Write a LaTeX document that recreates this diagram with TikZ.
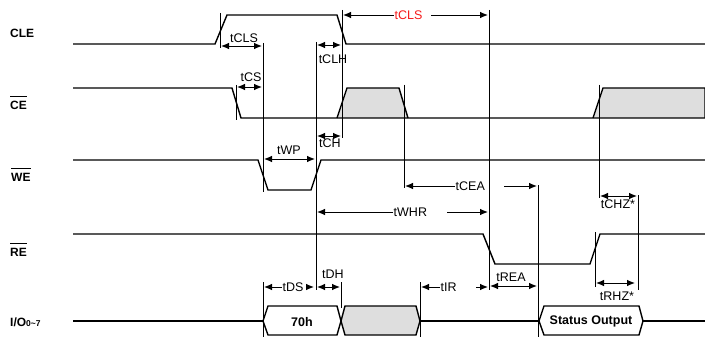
\documentclass[tikz,border=0pt]{standalone}
\usepackage{fontspec}
\setmainfont{Liberation Sans}
\usetikzlibrary{arrows.meta}
\definecolor{tred}{RGB}{245,25,25}
\definecolor{dcgrey}{RGB}{222,222,222}
\begin{document}
\begin{tikzpicture}[x=1pt,y=-1pt,
  sig/.style={line width=1.4pt, line join=miter},
  refl/.style={line width=0.7pt},
  dimone/.style={line width=0.9pt, -{Latex[length=8pt,width=6.5pt]}},
  dimtwo/.style={line width=0.9pt, {Latex[length=8pt,width=6.5pt]}-{Latex[length=8pt,width=6.5pt]}},
  lbl/.style={font=\fontsize{12.5}{13}\selectfont, inner sep=0.5pt},
  sname/.style={font=\bfseries\fontsize{12}{12}\selectfont, anchor=west, inner sep=0pt},
  bar/.style={line width=1.1pt},
  boxtxt/.style={font=\bfseries\fontsize{12.5}{13}\selectfont, inner sep=0pt},
  dontcare/.style={fill=dcgrey}]
\useasboundingbox (0,0) rectangle (705,337);

% signal names
\node[sname] (nCLE) at (10,33) {CLE};
\node[sname] (nCE) at (10,105) {CE};
\node[sname] (nWE) at (11,177) {WE};
\node[sname] (nRE) at (10,252) {RE};
\node[sname] (nIO) at (10,322) {I/O{\fontsize{8.5}{8.5}\selectfont\bfseries 0\textasciitilde7}};
\draw[bar] ([yshift=4.5pt]nCE.north west) -- ([yshift=4.5pt]nCE.north east);
\draw[bar] ([yshift=4.5pt]nWE.north west) -- ([yshift=4.5pt]nWE.north east);
\draw[bar] ([yshift=4.5pt]nRE.north west) -- ([yshift=4.5pt]nRE.north east);

% reference lines
\draw[refl] (220,13) -- (220,48);
\draw[refl] (263,43) -- (263,192);
\draw[refl] (263,282) -- (263,337);
\draw[refl] (236,85) -- (236,120);
\draw[refl] (316,42) -- (316,290);
\draw[refl] (342,10) -- (342,138);
\draw[refl] (341,282) -- (341,308);
\draw[refl] (404,85) -- (404,188);
\draw[refl] (489,10) -- (489,290);
\draw[refl] (538,185) -- (538,337);
\draw[refl] (599,85) -- (599,198);
\draw[refl] (638,195) -- (638,290);
\draw[refl] (595,232) -- (595,287);
\draw[refl] (420,282) -- (420,337);

% CLE
\draw[sig] (73,44) -- (215,44) -- (227,15) -- (337,15) -- (346,44) -- (705,44);

% CE
\filldraw[sig, dontcare] (337,118) -- (347,88) -- (399,88) -- (408,118);
\filldraw[sig, dontcare] (593,118) -- (603,88) -- (705,88) -- (705,118);
\draw[sig] (73,88) -- (232,88) -- (241,118) -- (705,118);
\draw[refl] (342,85) -- (342,120);
\draw[refl] (404,85) -- (404,120);
\draw[refl] (599,85) -- (599,120);

% WE
\draw[sig] (73,160) -- (258,160) -- (268,190) -- (311,190) -- (321,160) -- (705,160);

% RE
\draw[sig] (73,234) -- (483,234) -- (495,264) -- (590,264) -- (600,234) -- (705,234);

% I/O
\draw[sig] (73,321) -- (263,321);
\draw[sig] (263,321) -- (268,306) -- (337,306) -- (341,321) -- (337,335) -- (268,335) -- cycle;
\filldraw[sig, dontcare] (341,321) -- (345,306) -- (416,306) -- (420,321) -- (416,335) -- (345,335) -- cycle;
\draw[sig] (420,321) -- (539,321);
\draw[sig] (539,321) -- (544,306) -- (639,306) -- (643,321) -- (639,335) -- (544,335) -- cycle;
\draw[sig] (643,321) -- (705,321);
\node[boxtxt] (b70) at (302,322) {70h};
\node[boxtxt] (bst) at (591,321) {Status Output};

% timing arrows
\draw[dimtwo] (221,46) -- (262,46);
\node[lbl] (tCLS) at (244,38) {tCLS};

\draw[dimtwo] (237,87) -- (262,87);
\node[lbl] (tCS) at (251,77) {tCS};

\draw[dimtwo] (317,45) -- (341,45);
\node[lbl] (tCLH) at (333,59) {tCLH};

\draw[dimtwo] (317,136) -- (341,136);
\node[lbl] (tCH) at (330,143) {tCH};

\draw[dimtwo] (264,159) -- (315,159);
\node[lbl] (tWP) at (289,150) {tWP};

% tCLS red
\node[lbl, text=tred, anchor=west] (tCLSr) at (394,15) {tCLS};
\draw[dimone] (394,15) -- (343,15);
\draw[dimone] (431,15) -- (488,15);

% tCEA
\node[lbl, anchor=west, fill=white] (tCEA) at (455,186) {tCEA};
\draw[dimone] (455,186) -- (405,186);
\draw[dimone] (504,186) -- (537,186);

% tWHR
\node[lbl, anchor=west] (tWHR) at (393,212) {tWHR};
\draw[dimone] (393,212) -- (317,212);
\draw[dimone] (447,212) -- (488,212);

% tCHZ*
\draw[dimtwo] (600,196) -- (637,196);
\node[lbl] (tCHZ) at (618,204) {tCHZ*};

% tRHZ*
\draw[dimtwo] (596,283) -- (635,283);
\node[lbl] (tRHZ) at (617,296) {tRHZ*};

% tDS
\node[lbl, anchor=west] (tDS) at (282,287) {tDS};
\draw[dimone] (282,287) -- (264,287);
\draw[dimone] (308,287) -- (314,287);

% tDH
\draw[dimtwo] (317,287) -- (340,287);
\node[lbl] (tDH) at (333,274) {tDH};

% tIR
\node[lbl, anchor=west] (tIR) at (440,287) {tIR};
\draw[dimone] (440,287) -- (421,287);
\draw[dimone] (476,287) -- (488,287);

% tREA
\draw[dimtwo] (490,286) -- (537,286);
\node[lbl] (tREA) at (511,277) {tREA};
\end{tikzpicture}
\end{document}
